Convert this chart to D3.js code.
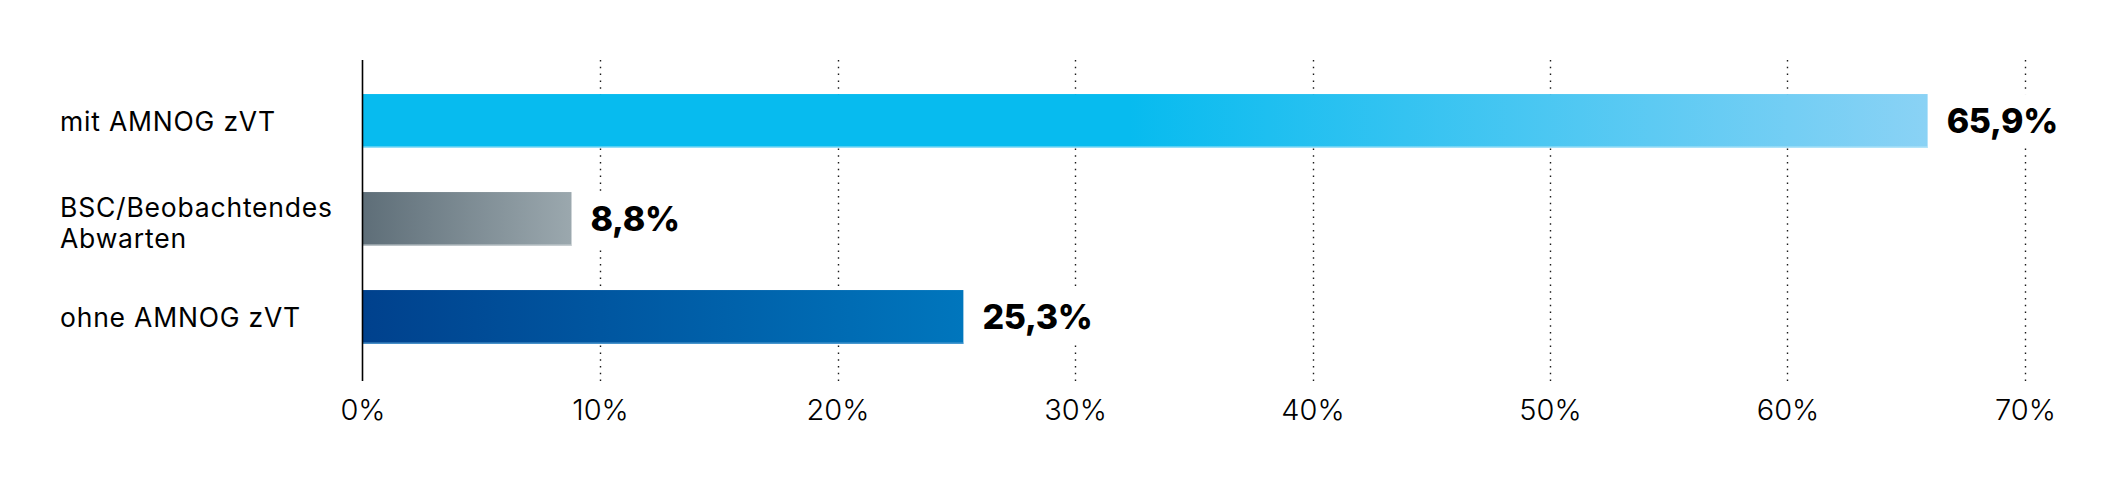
<!DOCTYPE html>
<html>
<head>
<meta charset="utf-8">
<script src="https://cdn.jsdelivr.net/npm/d3@7"></script>
<style>
  html, body { margin: 0; padding: 0; background: #ffffff; }
  svg { display: block; }
</style>
</head>
<body>
<svg id="chart" width="2126" height="484"></svg>
<script>
// ---- data ----
const categories = ["mit AMNOG zVT", "BSC/Beobachtendes Abwarten", "ohne AMNOG zVT"];
const categoryLines = [["mit AMNOG zVT"], ["BSC/Beobachtendes", "Abwarten"], ["ohne AMNOG zVT"]];
const values = [65.9, 8.8, 25.3];
const valueLabels = ["65,9%", "8,8%", "25,3%"];
const tickValues = [0, 10, 20, 30, 40, 50, 60, 70];
const tickLabels = ["0%", "10%", "20%", "30%", "40%", "50%", "60%", "70%"];

// ---- styles ----
const gradients = [
  [{o: 0, c: "#07bbef"}, {o: 0.49, c: "#07bbef"}, {o: 1, c: "#8ad2f5"}],
  [{o: 0, c: "#5e6e78"}, {o: 1, c: "#9ba8ae"}],
  [{o: 0, c: "#00418d"}, {o: 1, c: "#0076bd"}]
];
const bottomEdge = ["#bfe9fa", "#d3d9dc", "#5aa3d6"];

const svg = d3.select("#chart");
const plotTop = 60, plotBottom = 381;

const x = d3.scaleLinear().domain([0, 70]).range([362.5, 2025]);
const y = d3.scaleBand().domain(categories).range([57, 381]).paddingInner(0.45).paddingOuter(0.378);

// gradients
const defs = svg.append("defs");
categories.forEach((c, i) => {
  const g = defs.append("linearGradient")
    .attr("id", "grad" + i)
    .attr("gradientUnits", "userSpaceOnUse")
    .attr("x1", x(0)).attr("x2", x(values[i]))
    .attr("y1", 0).attr("y2", 0);
  gradients[i].forEach(s => g.append("stop").attr("offset", s.o).attr("stop-color", s.c));
});

// gridlines
svg.append("g")
  .selectAll("line")
  .data(tickValues.filter(v => v > 0))
  .join("line")
  .attr("x1", d => Math.round(x(d)) + 0.5)
  .attr("x2", d => Math.round(x(d)) + 0.5)
  .attr("y1", plotTop).attr("y2", plotBottom)
  .attr("stroke", "#1a1a1a")
  .attr("stroke-width", 1.4)
  .attr("stroke-dasharray", "1.5,5.3");

// bars
const bars = svg.append("g");
bars.selectAll("rect.bar")
  .data(values)
  .join("rect")
  .attr("class", "bar")
  .attr("x", x(0))
  .attr("y", (d, i) => y(categories[i]))
  .attr("width", d => x(d) - x(0))
  .attr("height", y.bandwidth())
  .attr("fill", (d, i) => `url(#grad${i})`);
bars.selectAll("rect.edge")
  .data(values)
  .join("rect")
  .attr("class", "edge")
  .attr("x", x(0))
  .attr("y", (d, i) => y(categories[i]) + y.bandwidth() - 1.5)
  .attr("width", d => x(d) - x(0))
  .attr("height", 1.5)
  .attr("fill", (d, i) => bottomEdge[i])
  .attr("opacity", 0.8);

// value labels with white backing
const vl = svg.append("g");
const labelSel = vl.selectAll("g")
  .data(values)
  .join("g");
labelSel.append("rect")
  .attr("class", "bg")
  .attr("y", (d, i) => y(categories[i]))
  .attr("height", y.bandwidth())
  .attr("fill", "#ffffff");
labelSel.append("text")
  .attr("x", d => x(d) + 19)
  .attr("y", (d, i) => y(categories[i]) + y.bandwidth() / 2)
  .attr("dy", "0.36em")
  .attr("font-family", "Inter, 'Open Sans', sans-serif")
  .attr("font-weight", 800)
  .attr("font-size", 34)
  .attr("letter-spacing", -0.3)
  .attr("fill", "#000000")
  .text((d, i) => valueLabels[i]);
labelSel.each(function () {
  const g = d3.select(this);
  const bb = g.select("text").node().getBBox();
  g.select("rect.bg").attr("x", bb.x - 4).attr("width", bb.width + 8);
});

// y axis line
svg.append("line")
  .attr("x1", x(0)).attr("x2", x(0))
  .attr("y1", plotTop).attr("y2", plotBottom)
  .attr("stroke", "#000000")
  .attr("stroke-width", 1.6);

// category labels
const cl = svg.append("g");
categoryLines.forEach((lines, i) => {
  const cy = y(categories[i]) + y.bandwidth() / 2;
  const lh = 31;
  const off = lines.length > 1 ? 3.5 : 0;
  const t = cl.append("text")
    .attr("font-family", "Inter, 'Open Sans', sans-serif")
    .attr("font-weight", 400)
    .attr("font-size", 26.5)
    .attr("letter-spacing", 0.8)
    .attr("fill", "#000000");
  lines.forEach((ln, j) => {
    t.append("tspan")
      .attr("x", 60)
      .attr("y", cy + off + (j - (lines.length - 1) / 2) * lh)
      .attr("dy", "0.36em")
      .text(ln);
  });
});

// x axis tick labels
const xAxis = d3.axisBottom(x)
  .tickValues(tickValues)
  .tickFormat((d, i) => tickLabels[i])
  .tickSize(0)
  .tickPadding(0);
const gx = svg.append("g")
  .attr("transform", `translate(0, 410)`)
  .call(xAxis);
gx.select(".domain").remove();
gx.selectAll("text")
  .attr("dy", "0.36em")
  .attr("y", 0)
  .attr("font-family", "Inter, 'Open Sans', sans-serif")
  .attr("font-weight", 300)
  .attr("font-size", 29)
  .attr("fill", "#000000");
</script>
</body>
</html>
